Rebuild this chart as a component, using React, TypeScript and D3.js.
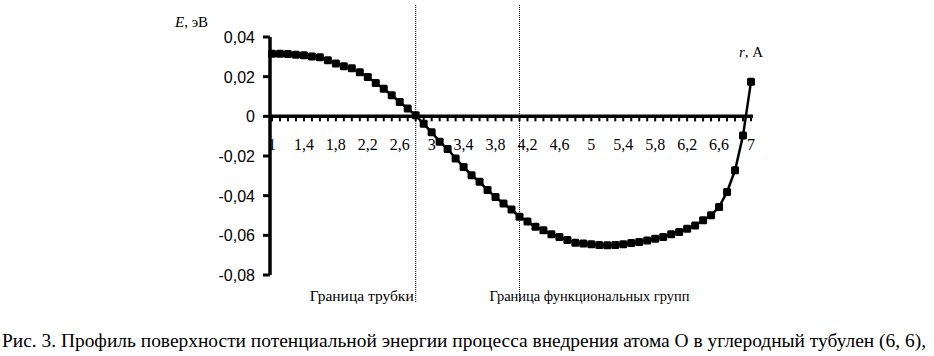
import React, { useEffect, useRef } from 'react';
import * as d3 from 'd3';

// r, A (category axis, step 0.1)
const radii: number[] = [
  1.0, 1.1, 1.2, 1.3, 1.4, 1.5, 1.6, 1.7, 1.8, 1.9,
  2.0, 2.1, 2.2, 2.3, 2.4, 2.5, 2.6, 2.7, 2.8, 2.9,
  3.0, 3.1, 3.2, 3.3, 3.4, 3.5, 3.6, 3.7, 3.8, 3.9,
  4.0, 4.1, 4.2, 4.3, 4.4, 4.5, 4.6, 4.7, 4.8, 4.9,
  5.0, 5.1, 5.2, 5.3, 5.4, 5.5, 5.6, 5.7, 5.8, 5.9,
  6.0, 6.1, 6.2, 6.3, 6.4, 6.5, 6.6, 6.7, 6.8, 6.9,
  7.0,
];

// E, eV
const energies: number[] = [
  0.0315, 0.0315, 0.0314, 0.031, 0.0308, 0.0302, 0.0298, 0.0283, 0.0267, 0.0253,
  0.0243, 0.0222, 0.0198, 0.0168, 0.0139, 0.0106, 0.0072, 0.0039, 0.0005, -0.0038,
  -0.008, -0.0128, -0.0165, -0.0212, -0.0255, -0.0297, -0.033, -0.0372, -0.0407, -0.044,
  -0.047, -0.0506, -0.053, -0.0557, -0.0574, -0.0594, -0.0608, -0.0624, -0.0637, -0.0641,
  -0.0645, -0.0649, -0.065, -0.0649, -0.0645, -0.0639, -0.0633, -0.0626, -0.0617, -0.0608,
  -0.0594, -0.0583, -0.0567, -0.055, -0.0524, -0.0499, -0.0457, -0.0381, -0.0272, -0.0097,
  0.0175,
];

const yTicks: number[] = [0.04, 0.02, 0, -0.02, -0.04, -0.06, -0.08];

const boundaries = [
  { r: 2.8, label: 'Граница трубки', side: 'left' },
  { r: 4.1, label: 'Граница функциональных групп', side: 'right' },
];

const caption =
  'Рис. 3. Профиль поверхности потенциальной энергии процесса внедрения атома О в углеродный тубулен (6, 6),';

const SERIF = '"Liberation Serif", "Times New Roman", Times, "DejaVu Serif", serif';
const SANS = '"Liberation Sans", Arial, sans-serif';

const fmt = (v: number) => (v === 0 ? '0' : d3.format('.2f')(v).replace('.', ',').replace('−', '-'));
const fmtR = (v: number) => (Number.isInteger(v) ? String(v) : String(v).replace('.', ','));

const Chart: React.FC = () => {
  const svgRef = useRef<SVGSVGElement | null>(null);

  useEffect(() => {
    const svg = d3.select(svgRef.current);
    svg.selectAll('*').remove();

    const x = d3.scalePoint<number>().domain(radii).range([272, 751]);
    const y = d3.scaleLinear().domain([-0.08, 0.04]).range([275, 37]);
    const y0 = y(0);

    // dotted boundary lines
    boundaries.forEach((b) => {
      const bx = x(b.r) as number;
      svg.append('line')
        .attr('x1', bx).attr('x2', bx)
        .attr('y1', 5).attr('y2', 303)
        .attr('stroke', '#000')
        .attr('stroke-width', 1)
        .attr('stroke-dasharray', '1,1');
      svg.append('text')
        .attr('x', b.side === 'left' ? bx - 2 : bx - 30)
        .attr('y', 301)
        .attr('text-anchor', b.side === 'left' ? 'end' : 'start')
        .style('font-family', SERIF)
        .attr('font-size', 15)
        .attr('textLength', b.side === 'left' ? 104 : 200)
        .attr('lengthAdjust', 'spacingAndGlyphs')
        .text(b.label);
    });

    // y axis
    svg.append('line')
      .attr('x1', 270).attr('x2', 270)
      .attr('y1', y(0.04)).attr('y2', y(-0.08))
      .attr('stroke', '#000').attr('stroke-width', 3.5);
    const yg = svg.selectAll('.ytick').data(yTicks).enter().append('g').attr('class', 'ytick');
    yg.append('line')
      .attr('x1', 263).attr('x2', 270)
      .attr('y1', (d) => y(d)).attr('y2', (d) => y(d))
      .attr('stroke', '#000').attr('stroke-width', 3);
    yg.append('text')
      .attr('x', 255)
      .attr('y', (d) => y(d) + 6)
      .attr('text-anchor', 'end')
      .style('font-family', SANS)
      .attr('font-size', 16)
      .text((d) => fmt(d));

    // x axis
    svg.append('line')
      .attr('x1', 269).attr('x2', 753)
      .attr('y1', y0).attr('y2', y0)
      .attr('stroke', '#000').attr('stroke-width', 3.5);
    svg.selectAll('.xtick').data(radii).enter().append('line')
      .attr('class', 'xtick')
      .attr('x1', (d) => x(d) as number).attr('x2', (d) => x(d) as number)
      .attr('y1', y0).attr('y2', y0 + 5)
      .attr('stroke', '#000').attr('stroke-width', 2);
    svg.selectAll('.xlabel').data(radii.filter((_, i) => i % 4 === 0)).enter().append('text')
      .attr('class', 'xlabel')
      .attr('x', (d) => x(d) as number)
      .attr('y', 150)
      .attr('text-anchor', 'middle')
      .style('font-family', SERIF)
      .attr('font-size', 16)
      .text((d) => fmtR(d));

    // series
    const pts = radii.map((r, i) => [x(r) as number, y(energies[i])] as [number, number]);
    svg.append('path')
      .attr('d', d3.line()(pts))
      .attr('fill', 'none')
      .attr('stroke', '#000')
      .attr('stroke-width', 2.5);
    svg.selectAll('.marker').data(pts).enter().append('rect')
      .attr('class', 'marker')
      .attr('x', (d) => d[0] - 4).attr('y', (d) => d[1] - 4)
      .attr('width', 8).attr('height', 8)
      .attr('rx', 1.5)
      .attr('fill', '#000');

    // axis titles
    const et = svg.append('text')
      .attr('x', 175).attr('y', 27)
      .style('font-family', SERIF)
      .attr('font-size', 15);
    et.append('tspan').attr('font-style', 'italic').text('E');
    et.append('tspan').text(', эВ');

    const rt = svg.append('text')
      .attr('x', 739).attr('y', 57)
      .style('font-family', SERIF)
      .attr('font-size', 15);
    rt.append('tspan').attr('font-style', 'italic').text('r');
    rt.append('tspan').text(', А');

    // caption
    svg.append('text')
      .attr('x', 2).attr('y', 347)
      .style('font-family', SERIF)
      .attr('font-size', 19)
      .attr('textLength', 924)
      .attr('lengthAdjust', 'spacingAndGlyphs')
      .text(caption);
  }, []);

  return <svg ref={svgRef} width={934} height={356} style={{ position: 'absolute', left: 0, top: 0, background: '#fff' }} />;
};

export default function App() {
  return <Chart />;
}
